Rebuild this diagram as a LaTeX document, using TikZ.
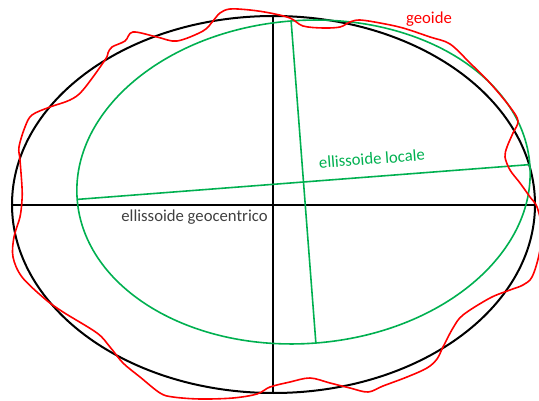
\documentclass[tikz,border=0pt]{standalone}
\usepackage{fontspec}
\setmainfont{Carlito}
\definecolor{offgreen}{HTML}{00B050}
\definecolor{offred}{HTML}{FF0000}
\definecolor{txtgray}{HTML}{404040}
\begin{document}
\begin{tikzpicture}[x=1pt,y=-1pt,
  blk/.style={draw=black,line width=2pt},
  grn/.style={draw=offgreen,line width=1.6pt},
  geo/.style={draw=offred,line width=1.6pt},
  lbl/.style={font=\fontsize{16.7}{20}\selectfont,inner sep=0pt}]
\useasboundingbox (0,0) rectangle (539,401);
% geocentric ellipsoid
\coordinate (bc) at (273.5,204.5);
\coordinate (bl) at (12,205);
\coordinate (br) at (535,205);
\coordinate (bt) at (273,16);
\coordinate (bb) at (273,393);
\draw[blk] (bc) ellipse [x radius=261.5pt, y radius=188.5pt];
\draw[blk] (bl) -- (br);
\draw[blk] (bt) -- (bb);
% local ellipsoid
\begin{scope}[shift={(303.5,182)}, rotate=4.4]
  \coordinate (gc) at (0,0);
  \draw[grn] (gc) ellipse [x radius=227pt, y radius=161.5pt];
  \coordinate (gl) at (-227,0);
  \coordinate (gr) at (227,0);
  \coordinate (gt) at (0,-161.5);
  \coordinate (gb) at (0,161.5);
  \node[lbl,text=offgreen,rotate=4.4] (lloc) at (70,-18) {ellissoide locale};
\end{scope}
\draw[grn] (gl) -- (gr);
\draw[grn] (gt) -- (gb);
% geoid
\draw[geo] plot[smooth cycle, tension=0.55] coordinates {
(19,147) (25,127) (32,115) (50,107) (70,100) (83,90) (105,60) (108,53) (112,47)
(125,41) (133,32) (157,37) (177,41) (203,31) (213,21) (220,13) (230,9) (250,10)
(270,13) (290,18) (303,26) (323,28) (340,27) (350,22) (360,20) (380,23) (403,28)
(430,37) (450,44) (470,63) (490,83) (510,107) (518,121) (513,133) (507,147)
(505,157) (510,170) (520,183) (530,197) (537,207) (542,230) (539,255) (532,277)
(523,285) (510,290) (490,298) (463,315) (453,328) (443,347) (437,359) (427,368)
(407,377) (383,386) (368,392) (350,388) (330,383) (310,378) (290,382) (270,387)
(257,394) (233,398) (200,399) (173,397) (160,393) (140,377) (123,363) (110,347)
(97,333) (63,312) (45,299) (22,277) (13,257) (14,237) (20,217) (22,200) (22,187)
(20,160)};
% labels
\node[lbl,text=offred] (lgeo) at (429,19) {geoide};
\node[lbl,text=txtgray] (lgc) at (194.5,217) {ellissoide geocentrico};
\end{tikzpicture}
\end{document}
